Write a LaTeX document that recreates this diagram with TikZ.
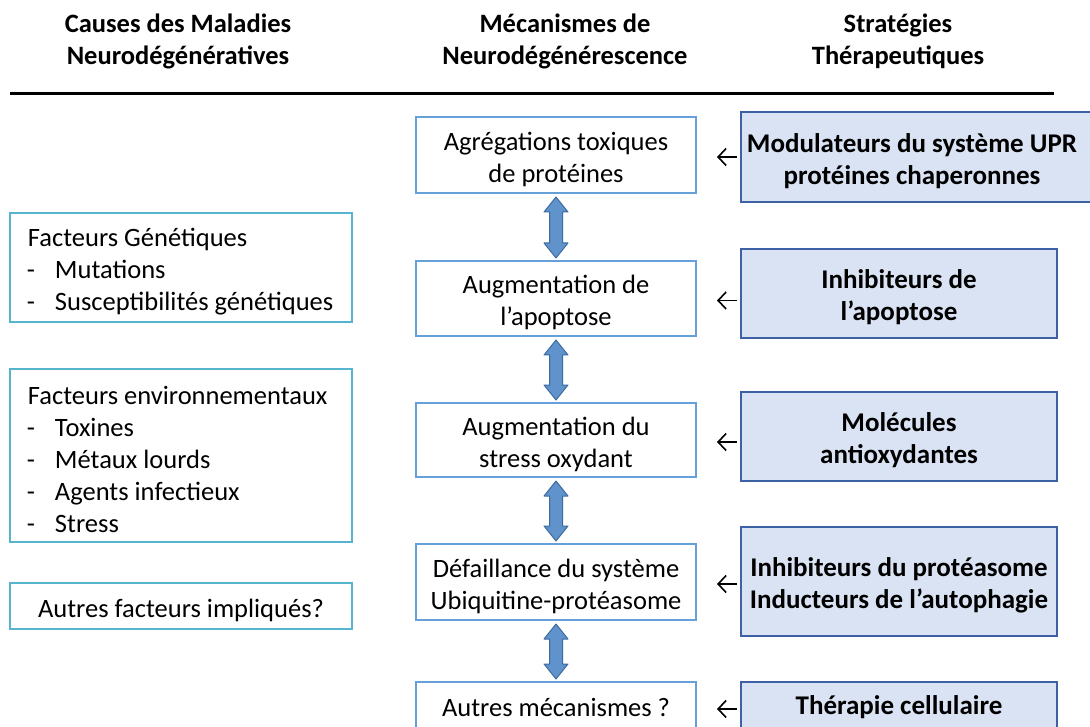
\documentclass[tikz,border=0pt]{standalone}
\usepackage{fontspec}
\setmainfont{Carlito}
\usetikzlibrary{positioning, calc, arrows.meta}

\definecolor{mechblue}{RGB}{101,160,216}
\definecolor{causeblue}{RGB}{86,180,206}
\definecolor{stratfill}{RGB}{218,227,243}
\definecolor{stratdraw}{RGB}{62,96,165}
\definecolor{arrfill}{RGB}{96,146,204}
\definecolor{arrdraw}{RGB}{60,106,160}

% fat double arrow between two stacked boxes
\newcommand{\dblarrow}[2]{%
  \draw[fatarrow] let \p1=($(#1.south)+(0,3)$), \p2=($(#2.north)+(0,-2)$) in
    (\x1,\y1) -- (\x1+12pt,\y1-15pt) -- (\x1+6.5pt,\y1-15pt) -- (\x1+6.5pt,\y2+15pt)
    -- (\x1+12pt,\y2+15pt) -- (\x2,\y2) -- (\x1-12pt,\y2+15pt) -- (\x1-6.5pt,\y2+15pt)
    -- (\x1-6.5pt,\y1-15pt) -- (\x1-12pt,\y1-15pt) -- cycle;}

\newcommand{\bulletdash}{\makebox[28pt][l]{-}}
\newcommand{\tstrut}{\rule{0pt}{27pt}}
\newcommand{\firstline}[1]{\makebox[308pt][l]{\tstrut\hspace{1pt}#1}}

\begin{document}
\begin{tikzpicture}[x=1pt, y=-1pt,
    every node/.style={font=\fontsize{26.5}{32}\selectfont, inner sep=0pt},
    header/.style={align=center, font=\fontsize{26.5}{32}\selectfont\bfseries},
    mech/.style={draw=mechblue, line width=2pt, minimum width=280pt, align=center},
    cause/.style={draw=causeblue, line width=2pt, minimum width=342pt},
    strat/.style={draw=stratdraw, fill=stratfill, line width=1.5pt, minimum width=316pt, align=center, font=\fontsize{27}{32}\selectfont\bfseries},
    fatarrow/.style={fill=arrfill, draw=arrdraw, line width=1pt, line join=round},
    towards/.style={{Straight Barb[length=8pt, width=17pt]}-, line width=1.6pt, shorten <=20pt, shorten >=3pt}]
    \useasboundingbox (0,0) rectangle (1090,727);

    % column titles
    \node[header] (hcause) at (178,41) {Causes des Maladies\\Neurodégénératives};
    \node[header] (hmech) at (565,41) {Mécanismes de\\Neurodégénérescence};
    \node[header] (hstrat) at (898,41) {Stratégies\\Thérapeutiques};
    \coordinate (ruleL) at (10,94);
    \coordinate (ruleR) at (1054,94);
    \draw[line width=3pt] (ruleL) -- (ruleR);

    % mechanisms
    \node[mech, minimum height=76pt] (m1) at (556,155) {\tstrut Agrégations toxiques\\de protéines};
    \node[mech, minimum height=75pt] (m2) at (556,298.5) {\tstrut Augmentation de\\l’apoptose};
    \node[mech, minimum height=74pt] (m3) at (556,440) {\tstrut Augmentation du\\stress oxydant};
    \node[mech, minimum height=76pt] (m4) at (556,582) {\tstrut Défaillance du système\\Ubiquitine-protéasome};
    \node[mech, minimum height=50pt] (m5) at (556,707) {Autres mécanismes ?};

    \dblarrow{m1}{m2}
    \dblarrow{m2}{m3}
    \dblarrow{m3}{m4}
    \dblarrow{m4}{m5}

    % strategies
    \node[strat, minimum width=352pt, minimum height=90pt] (r1) at (917,157)
        {\tstrut Modulateurs du système UPR\hspace*{10pt}\\protéines chaperonnes\hspace*{10pt}};
    \node[strat, minimum height=89pt] (r2) at (899,293.5) {\tstrut Inhibiteurs de\\l’apoptose};
    \node[strat, minimum height=89pt] (r3) at (899,436.5) {\tstrut Molécules\\antioxydantes};
    \node[strat, minimum height=109pt] (r4) at (899,581.5) {\tstrut Inhibiteurs du protéasome\\Inducteurs de l’autophagie};
    \node[strat, minimum height=50pt] (r5) at (899,707) {Thérapie cellulaire};

    \foreach \i in {1,...,5} {
        \draw[towards] ([yshift=-2pt]m\i.east) -- ([yshift=-2pt]m\i.east -| r\i.west);
    }

    % causes
    \node[cause, minimum height=109pt, align=left] (c1) at (181,267.5)
        {\firstline{Facteurs Génétiques}\\\bulletdash Mutations\\\bulletdash Susceptibilités génétiques};
    \node[cause, minimum height=173pt, align=left] (c2) at (181,455.5)
        {\firstline{Facteurs environnementaux}\\\bulletdash Toxines\\\bulletdash Métaux lourds\\\bulletdash Agents infectieux\\\bulletdash Stress};
    \node[cause, minimum height=46pt] (c3) at (181,606) {\tstrut Autres facteurs impliqués?};
\end{tikzpicture}
\end{document}
